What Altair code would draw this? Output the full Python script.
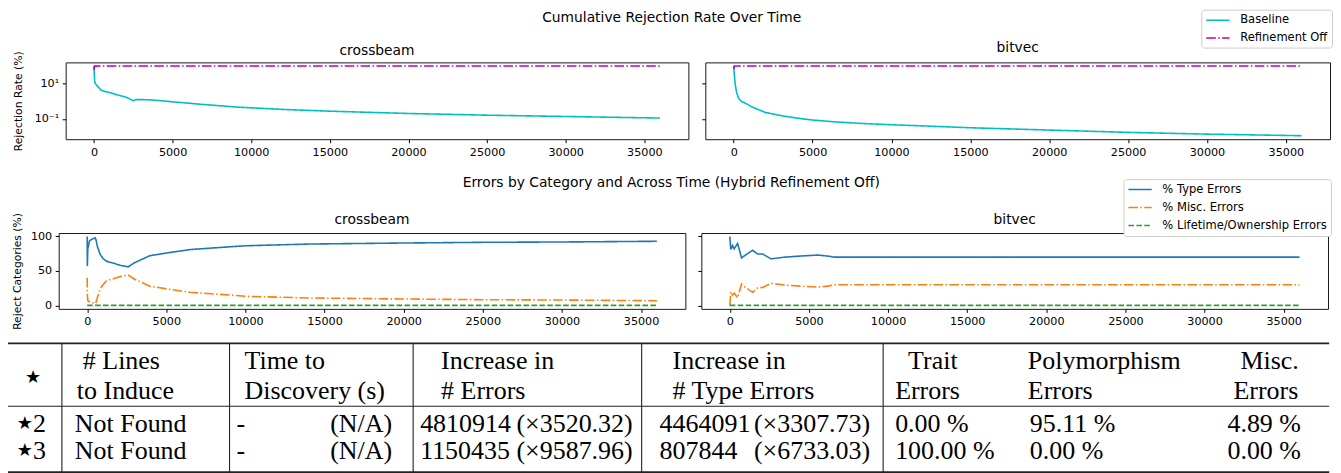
import altair as alt
import pandas as pd

SANS = "DejaVu Sans"
SERIF = "Liberation Serif"

# ------------------------------------------------------------------ data
# Cumulative rejection rate (%) over time (s)
CB_BASE_T = [0, 15, 40, 80, 230, 440, 700, 1050, 1460, 2060, 2480, 2700, 3530, 5000,
             6680, 9100, 12000, 15000, 20000, 25000, 30000, 36000]
CB_BASE_V = [100, 40, 15, 10, 7, 4.3, 3.5, 3.0, 2.3, 1.66, 1.07, 1.23, 1.2, 0.92,
             0.68, 0.46, 0.34, 0.27, 0.2, 0.16, 0.135, 0.11]
CB_OFF_T = [0, 40, 500, 5000, 15000, 25000, 36000]
CB_OFF_V = [60, 97, 98, 98, 98, 98, 98]

BV_BASE_T = [0, 40, 100, 190, 320, 500, 800, 1200, 2000, 3000, 4000, 5000, 6500,
             8000, 10000, 12500, 15000, 20000, 25000, 30000, 36000]
BV_BASE_V = [100, 30, 8, 3, 1.4, 0.95, 0.72, 0.45, 0.23, 0.15, 0.11, 0.085, 0.066,
             0.055, 0.046, 0.038, 0.031, 0.023, 0.017, 0.0135, 0.011]
BV_OFF_T = [0, 40, 500, 5000, 15000, 25000, 36000]
BV_OFF_V = [65, 98, 98, 98, 98, 98, 98]

# Errors by category (%), hybrid refinement off
CB_CAT_T = [0, 10, 40, 150, 300, 500, 560, 650, 820, 1000, 1230, 1700, 2100, 2590,
            3000, 3950, 5000, 6500, 9000, 10000, 14000, 20000, 25000, 30000, 36000]
CB_TYPE = [100, 57, 82, 94, 96, 98, 95, 85, 74, 68, 64, 61, 58, 56,
           62, 72, 76, 81, 85, 86.5, 89, 90.5, 91.5, 92, 93]
CB_MISC = [40, 17, 7, 5, 4, 2.4, 4.5, 12, 24, 30, 36, 39, 42, 44,
           38, 28, 24, 19, 15, 13.2, 10.8, 9.3, 8.3, 7.8, 6.8]
CB_LIFE = [0, 0, 0, 0, 0, 0, 0, 0, 0, 0, 0, 0, 0, 0,
           0, 0, 0, 0, 0, 0, 0, 0, 0, 0, 0]

BV_CAT_T = [0, 60, 170, 275, 490, 740, 1020, 1440, 1760, 2080, 2610, 3460, 4730,
            5570, 6200, 6600, 10000, 15000, 20000, 25000, 30000, 36000]
BV_TYPE = [100, 81, 87, 82, 90, 69, 73.5, 80, 74.5, 74.5, 67.5, 70, 72,
           73, 71.5, 70, 70, 70, 70, 70, 70, 70]
BV_MISC = [0, 19.7, 15, 18, 11, 31, 25.5, 19, 25.5, 26, 32, 29.5, 27.5,
           26.5, 28, 30, 30, 30, 30, 30, 30, 30]
BV_LIFE = [0, 0, 0, 0, 0, 0, 0, 0, 0, 0, 0, 0, 0,
           0, 0, 0, 0, 0, 0, 0, 0, 0]

SERIES_1 = ["Baseline", "Refinement Off"]
COLORS_1 = ["#00bfbf", "#bf00bf"]
DASHES_1 = [[1, 0], [9.6, 2.4, 1.5, 2.4]]

SERIES_2 = ["% Type Errors", "% Misc. Errors", "% Lifetime/Ownership Errors"]
COLORS_2 = ["#1f77b4", "#ff7f0e", "#2ca02c"]
DASHES_2 = [[1, 0], [9.6, 2.4, 1.5, 2.4], [5.55, 2.4]]

X_TICKS = [0, 5000, 10000, 15000, 20000, 25000, 30000, 35000]
X_DOMAIN = [-1800, 37800]
LOG_DOMAIN = [10 ** -2.158, 10 ** 2.198]
LOG_TICKS = [0.1, 10]
PCT_DOMAIN = [-5, 105]
PCT_TICKS = [0, 50, 100]

# table content
HEADER_1 = ["# Lines", "Time to", "Increase in", "Increase in", "Trait", "Polymorphism", "Misc."]
HEADER_2 = ["to Induce", "Discovery (s)", "# Errors", "# Type Errors", "Errors", "Errors", "Errors"]
ROW_IDS = ["2", "3"]
FOUND = ["Not Found", "Not Found"]
DISC_TIME = ["-", "-"]
DISC_NOTE = ["(N/A)", "(N/A)"]
ERR_INC = ["4810914", "1150435"]
ERR_RATIO = ["(×3520.32)", "(×9587.96)"]
TYPE_INC = ["4464091", "807844"]
TYPE_RATIO = ["(×3307.73)", "(×6733.03)"]
TRAIT = ["0.00 %", "100.00 %"]
POLY = ["95.11 %", "0.00 %"]
MISC = ["4.89 %", "0.00 %"]

# ------------------------------------------------------------------ layout (page pixels)
TITLE_SIZE = 13.85
TABLE_X0, TABLE_RIGHT, TABLE_LEFT_RULE = 58.8, 1332, 8
TABLE_TOP, TABLE_BOTTOM = 342, 472
HEAD1_X = [83, 245, 442, 674, 910, 1030, 1243]
HEAD2_X = [77, 245, 442, 674, 897, 1030, 1236]
HEAD_Y = [360, 390]
STAR_HEAD_X, STAR_HEAD_Y = 33, 377
ROW_Y = [423, 450]
STAR_X, ID_X = 16.7, 33
LEFT_COL_X = [75, 237, 421, 661, 897, 1032, 1230]
RIGHT_COL_X = [393, 634, 872]
H_RULE_Y = [342, 405, 471]
H_RULE_W = [1.6, 1.1, 1.6]
V_RULE_X = [62, 230, 414, 643, 885]


def long_df(parts):
    return pd.concat([pd.DataFrame({"t": ts, "v": vs, "series": name}) for name, ts, vs in parts],
                     ignore_index=True)


def make_legend(x, y, row_pad):
    return alt.Legend(title=None, orient="none", legendX=x, legendY=y,
                      symbolType="M-1,0H3.25", symbolSize=121, symbolStrokeWidth=1.5,
                      labelFont=SANS, labelFontSize=11.55, labelColor="black", labelLimit=400,
                      labelOffset=22, padding=4, rowPadding=row_pad,
                      fillColor="white", strokeColor="#cccccc", cornerRadius=3)


def panel(df, series, colors, dashes, legend, ylog, width, height, title, title_offset, title_dy,
          ytitle=None, extent=None):
    xscale = alt.Scale(domain=X_DOMAIN, nice=False, zero=False)
    if ylog:
        yscale = alt.Scale(type="log", domain=LOG_DOMAIN, nice=False)
        yticks = LOG_TICKS
    else:
        yscale = alt.Scale(domain=PCT_DOMAIN, nice=False, zero=False)
        yticks = PCT_TICKS
    xaxis = alt.Axis(values=X_TICKS, format="d", title=None, labelFlush=False, labelOverlap=False)
    if ytitle is not None:
        kw = dict(values=yticks, title=ytitle, titlePadding=6, minExtent=extent, maxExtent=extent,
                  labelOverlap=False, labelFlush=False)
        if ylog:
            kw["labelExpr"] = "datum.value >= 1 ? '10¹' : '10⁻¹'"
        yaxis = alt.Axis(**kw)
    else:
        yaxis = alt.Axis(values=yticks, title=None, labels=False)
    return alt.Chart(df).mark_line(strokeWidth=1.6).encode(
        x=alt.X("t:Q", scale=xscale, axis=xaxis),
        y=alt.Y("v:Q", scale=yscale, axis=yaxis),
        color=alt.Color("series:N", scale=alt.Scale(domain=series, range=colors), legend=legend),
        strokeDash=alt.StrokeDash("series:N", scale=alt.Scale(domain=series, range=dashes), legend=legend),
    ).properties(
        width=width, height=height,
        title=alt.TitleParams(title, anchor="middle", frame="group", baseline="bottom",
                              offset=title_offset, dy=title_dy, fontSize=TITLE_SIZE, font=SANS,
                              fontWeight="normal", color="black"),
    )


RES = dict(x="independent", y="independent", color="independent", strokeDash="independent")

# spacer that shifts the first row's panels right of the second row's
spacer = alt.Chart(pd.DataFrame({"s": [0]})).mark_point(opacity=0, size=0).encode(
    x=alt.X("s:Q", axis=None), y=alt.Y("s:Q", axis=None)
).properties(width=6.2, height=77, view=alt.ViewBackground(stroke="transparent"))

# ---- row 1
leg1 = make_legend(1138, -52.8, 4.8)
df_cb1 = long_df([("Baseline", CB_BASE_T, CB_BASE_V), ("Refinement Off", CB_OFF_T, CB_OFF_V)])
df_bv1 = long_df([("Baseline", BV_BASE_T, BV_BASE_V), ("Refinement Off", BV_OFF_T, BV_OFF_V)])
L1 = panel(df_cb1, SERIES_1, COLORS_1, DASHES_1, leg1, True, 624, 77, "crossbeam", -11, 9.8,
           ytitle="Rejection Rate (%)", extent=36)
R1 = panel(df_bv1, SERIES_1, COLORS_1, DASHES_1, leg1, True, 626, 77, "bitvec", 3.5, 9.8)
inner1 = alt.hconcat(
    L1, R1, spacing=17, bounds="flush",
    title=alt.TitleParams("Cumulative Rejection Rate Over Time", anchor="middle", baseline="bottom",
                          offset=-12.8, dx=-0.7, dy=17.2, fontSize=TITLE_SIZE, font=SANS,
                          fontWeight="normal", color="black"),
).resolve_scale(x="independent", y="independent")
row1 = alt.hconcat(spacer, inner1, spacing=0, bounds="flush").resolve_scale(**RES)

# ---- row 2
leg2 = make_legend(1067, 177 - 231, 5.0)
df_cb2 = long_df([(SERIES_2[0], CB_CAT_T, CB_TYPE), (SERIES_2[1], CB_CAT_T, CB_MISC),
                  (SERIES_2[2], CB_CAT_T, CB_LIFE)])
df_bv2 = long_df([(SERIES_2[0], BV_CAT_T, BV_TYPE), (SERIES_2[1], BV_CAT_T, BV_MISC),
                  (SERIES_2[2], BV_CAT_T, BV_LIFE)])
L2 = panel(df_cb2, SERIES_2, COLORS_2, DASHES_2, leg2, False, 628, 76, "crossbeam", -15.7, 13,
           ytitle="Reject Categories (%)", extent=29.9)
R2 = panel(df_bv2, SERIES_2, COLORS_2, DASHES_2, leg2, False, 628, 76, "bitvec", 4.7, 13)
row2 = alt.hconcat(
    L2, R2, spacing=16, bounds="flush",
    title=alt.TitleParams("Errors by Category and Across Time (Hybrid Refinement Off)", anchor="middle",
                          baseline="bottom", offset=-11.8, dx=-0.2, dy=13.8, fontSize=TITLE_SIZE,
                          font=SANS, fontWeight="normal", color="black"),
).resolve_scale(x="independent", y="independent")

# ---- table
tx = alt.Scale(domain=[TABLE_X0, TABLE_RIGHT], nice=False, zero=False)
ty = alt.Scale(domain=[TABLE_BOTTOM, TABLE_TOP], nice=False, zero=False)

left_cells, right_cells = [], []
for txt, x in zip(HEADER_1, HEAD1_X):
    left_cells.append({"x": x, "y": HEAD_Y[0], "text": txt})
for txt, x in zip(HEADER_2, HEAD2_X):
    left_cells.append({"x": x, "y": HEAD_Y[1], "text": txt})
for i, y in enumerate(ROW_Y):
    left_cells.append({"x": ID_X, "y": y, "text": ROW_IDS[i]})
    for col, x in zip([FOUND, DISC_TIME, ERR_INC, TYPE_INC, TRAIT, POLY, MISC], LEFT_COL_X):
        left_cells.append({"x": x, "y": y, "text": col[i]})
    for col, x in zip([DISC_NOTE, ERR_RATIO, TYPE_RATIO], RIGHT_COL_X):
        right_cells.append({"x": x, "y": y, "text": col[i]})
star_rows = pd.DataFrame({"x": [STAR_X] * len(ROW_Y), "y": ROW_Y, "text": ["★"] * len(ROW_Y)})
star_head = pd.DataFrame({"x": [STAR_HEAD_X], "y": [STAR_HEAD_Y], "text": ["★"]})


def text_layer(df, align, font, size):
    return alt.Chart(df).mark_text(align=align, baseline="middle", font=font, fontSize=size,
                                   color="black").encode(
        x=alt.X("x:Q", scale=tx, axis=None),
        y=alt.Y("y:Q", scale=ty, axis=None),
        text="text:N",
    )


hr_df = pd.DataFrame({"y": H_RULE_Y, "x1": [TABLE_LEFT_RULE] * 3, "x2": [TABLE_RIGHT] * 3, "w": H_RULE_W})
vr_df = pd.DataFrame({"x": V_RULE_X, "y1": [H_RULE_Y[0]] * 5, "y2": [H_RULE_Y[-1]] * 5})
hrules = alt.Chart(hr_df).mark_rule(color="#222222").encode(
    x=alt.X("x1:Q", scale=tx, axis=None), x2="x2:Q",
    y=alt.Y("y:Q", scale=ty, axis=None),
    strokeWidth=alt.StrokeWidth("w:Q", scale=None),
)
vrules = alt.Chart(vr_df).mark_rule(color="#222222", strokeWidth=1.1).encode(
    x=alt.X("x:Q", scale=tx, axis=None),
    y=alt.Y("y1:Q", scale=ty, axis=None), y2="y2:Q",
)
table = alt.layer(
    hrules, vrules,
    text_layer(pd.DataFrame(left_cells), "left", SERIF, 26),
    text_layer(pd.DataFrame(right_cells), "right", SERIF, 26),
    text_layer(star_rows, "left", SANS, 18),
    text_layer(star_head, "center", SANS, 18),
).properties(width=TABLE_RIGHT - TABLE_X0, height=TABLE_BOTTOM - TABLE_TOP,
             view=alt.ViewBackground(stroke="transparent"))

upper = alt.vconcat(row1, row2, spacing=18).resolve_scale(**RES)
chart = alt.vconcat(upper, table, spacing=10.6).resolve_scale(**RES).properties(
    padding={"left": -2.2, "top": 0, "right": 0, "bottom": 0}
).configure_view(
    stroke="#1a1a1a", strokeWidth=1
).configure_axis(
    labelFont=SANS, labelFontSize=11.2, labelColor="black",
    titleFont=SANS, titleFontSize=10.8, titleFontWeight="normal", titleColor="black",
    tickColor="black", tickWidth=1, tickSize=3.5, labelPadding=3.5, grid=False, domain=False,
).configure_title(font=SANS, fontWeight="normal", color="black")

chart.save("out.html", embed_options={"renderer": "svg", "actions": False})
